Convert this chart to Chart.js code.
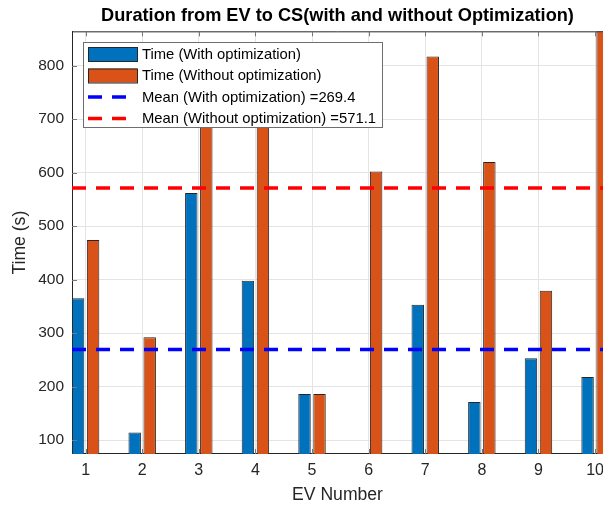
<!DOCTYPE html>
<html>
<head>
<meta charset="utf-8">
<title>Duration from EV to CS</title>
<script src="https://cdn.jsdelivr.net/npm/chart.js@4.4.1/dist/chart.umd.min.js"></script>
<style>
  html, body { margin: 0; padding: 0; background: #fff; }
  canvas { display: block; }
</style>
</head>
<body>
<canvas id="durationChart" width="603" height="506"></canvas>
<script>
const evNumbers = [1, 2, 3, 4, 5, 6, 7, 8, 9, 10];
const timeWithOpt = [365, 114, 562, 398, 186, 74, 353, 171, 253, 218];
const timeWithoutOpt = [474, 292, 742, 735, 186, 602, 817, 620, 379, 864];
const meanWithOpt = 269.4;
const meanWithoutOpt = 571.1;
const yTicks = [100, 200, 300, 400, 500, 600, 700, 800];
const xLimits = [0.76, 10.14];
const yLimits = [74, 864];

const FONT = "'Liberation Sans', Arial, sans-serif";
const AXIS_COLOR = "#262626";
const GRID_COLOR = "#e4e4e4";

// MATLAB-like box: top edge, inward ticks, legend inside the axes
const matlabBox = {
  id: "matlabBox",
  afterDatasetsDraw(chart) {
    const { ctx, chartArea: a, scales } = chart;
    ctx.save();
    ctx.strokeStyle = AXIS_COLOR;
    ctx.lineWidth = 1;
    ctx.beginPath();
    ctx.moveTo(a.left, a.top + 0.5);
    ctx.lineTo(a.right, a.top + 0.5);
    ctx.stroke();

    ctx.strokeStyle = "#777";
    ctx.beginPath();
    scales.x.ticks.forEach(t => {
      const px = Math.round(scales.x.getPixelForValue(t.value)) + 0.5;
      ctx.moveTo(px, a.bottom); ctx.lineTo(px, a.bottom - 5);
      ctx.moveTo(px, a.top); ctx.lineTo(px, a.top + 5);
    });
    scales.y.ticks.forEach(t => {
      const py = Math.round(scales.y.getPixelForValue(t.value)) + 0.5;
      ctx.moveTo(a.left, py); ctx.lineTo(a.left + 5, py);
    });
    ctx.stroke();

    // legend
    const box = { x: 83.5, y: 42.5, w: 299, h: 85 };
    ctx.fillStyle = "#fff";
    ctx.fillRect(box.x, box.y, box.w, box.h);
    ctx.strokeStyle = "#6e6e6e";
    ctx.strokeRect(box.x, box.y, box.w, box.h);

    ctx.font = "14.8px " + FONT;
    ctx.textBaseline = "middle";
    ctx.textAlign = "left";
    chart.data.datasets.forEach((ds, i) => {
      const cy = 54 + i * 21.5;
      if (ds.type === "line") {
        ctx.save();
        ctx.strokeStyle = ds.borderColor;
        ctx.lineWidth = ds.borderWidth;
        ctx.setLineDash(ds.borderDash);
        ctx.beginPath();
        ctx.moveTo(88, cy);
        ctx.lineTo(130, cy);
        ctx.stroke();
        ctx.restore();
      } else {
        ctx.fillStyle = ds.backgroundColor;
        ctx.fillRect(88, cy - 7, 49, 14);
        ctx.strokeStyle = AXIS_COLOR;
        ctx.lineWidth = 1;
        ctx.strokeRect(88.5, cy - 6.5, 49, 14);
      }
      ctx.fillStyle = "#000";
      ctx.fillText(ds.label, 142, cy + 0.5);
    });
    ctx.restore();
  }
};

const chart = new Chart(document.getElementById("durationChart"), {
  type: "bar",
  data: {
    datasets: [
      {
        label: "Time (With optimization)",
        data: evNumbers.map((x, i) => ({ x, y: timeWithOpt[i] })),
        backgroundColor: "#0072BD",
        borderColor: AXIS_COLOR,
        borderWidth: 1,
        barPercentage: 0.83,
        categoryPercentage: 0.53,
        order: 1
      },
      {
        label: "Time (Without optimization)",
        data: evNumbers.map((x, i) => ({ x, y: timeWithoutOpt[i] })),
        backgroundColor: "#D95319",
        borderColor: AXIS_COLOR,
        borderWidth: 1,
        barPercentage: 0.83,
        categoryPercentage: 0.53,
        order: 1
      },
      {
        type: "line",
        label: "Mean (With optimization) =" + meanWithOpt,
        data: xLimits.map(x => ({ x, y: meanWithOpt })),
        borderColor: "#0000FF",
        borderWidth: 3.5,
        borderDash: [14, 10],
        pointRadius: 0,
        fill: false,
        order: 0
      },
      {
        type: "line",
        label: "Mean (Without optimization) =" + meanWithoutOpt,
        data: xLimits.map(x => ({ x, y: meanWithoutOpt })),
        borderColor: "#FF0000",
        borderWidth: 3.5,
        borderDash: [14, 10],
        pointRadius: 0,
        fill: false,
        order: 0
      }
    ]
  },
  options: {
    responsive: false,
    animation: false,
    devicePixelRatio: 1,
    layout: { padding: 0 },
    plugins: {
      legend: { display: false },
      tooltip: { enabled: false },
      title: {
        display: true,
        text: "Duration from EV to CS(with and without Optimization)",
        color: "#000",
        font: { family: FONT, size: 18.2, weight: "bold" },
        padding: { top: 5, bottom: 4.5 },
        fullSize: false
      }
    },
    scales: {
      x: {
        type: "linear",
        min: xLimits[0],
        max: xLimits[1],
        offset: false,
        afterBuildTicks: scale => { scale.ticks = evNumbers.map(v => ({ value: v })); },
        afterFit: scale => {
          scale.height = 52;
          scale.paddingLeft = 0;
          scale.paddingRight = 0;
        },
        grid: { color: GRID_COLOR, drawTicks: false, offset: false },
        border: { color: AXIS_COLOR },
        ticks: { color: AXIS_COLOR, font: { family: FONT, size: 16 }, padding: 7 },
        title: {
          display: true,
          text: "EV Number",
          color: AXIS_COLOR,
          font: { family: FONT, size: 17.6 },
          padding: { top: 0, bottom: 0 }
        }
      },
      y: {
        min: yLimits[0],
        max: yLimits[1],
        beginAtZero: false,
        afterBuildTicks: scale => { scale.ticks = yTicks.map(v => ({ value: v })); },
        afterFit: scale => {
          scale.width = 72;
          scale.paddingTop = 0;
          scale.paddingBottom = 0;
        },
        grid: { color: GRID_COLOR, drawTicks: false },
        border: { color: AXIS_COLOR },
        ticks: { color: AXIS_COLOR, font: { family: FONT, size: 15.5 }, padding: 8 },
        title: {
          display: true,
          text: "Time (s)",
          color: AXIS_COLOR,
          font: { family: FONT, size: 17.6 },
          padding: { top: 10, bottom: 0 }
        }
      }
    }
  },
  plugins: [matlabBox]
});
</script>
</body>
</html>
